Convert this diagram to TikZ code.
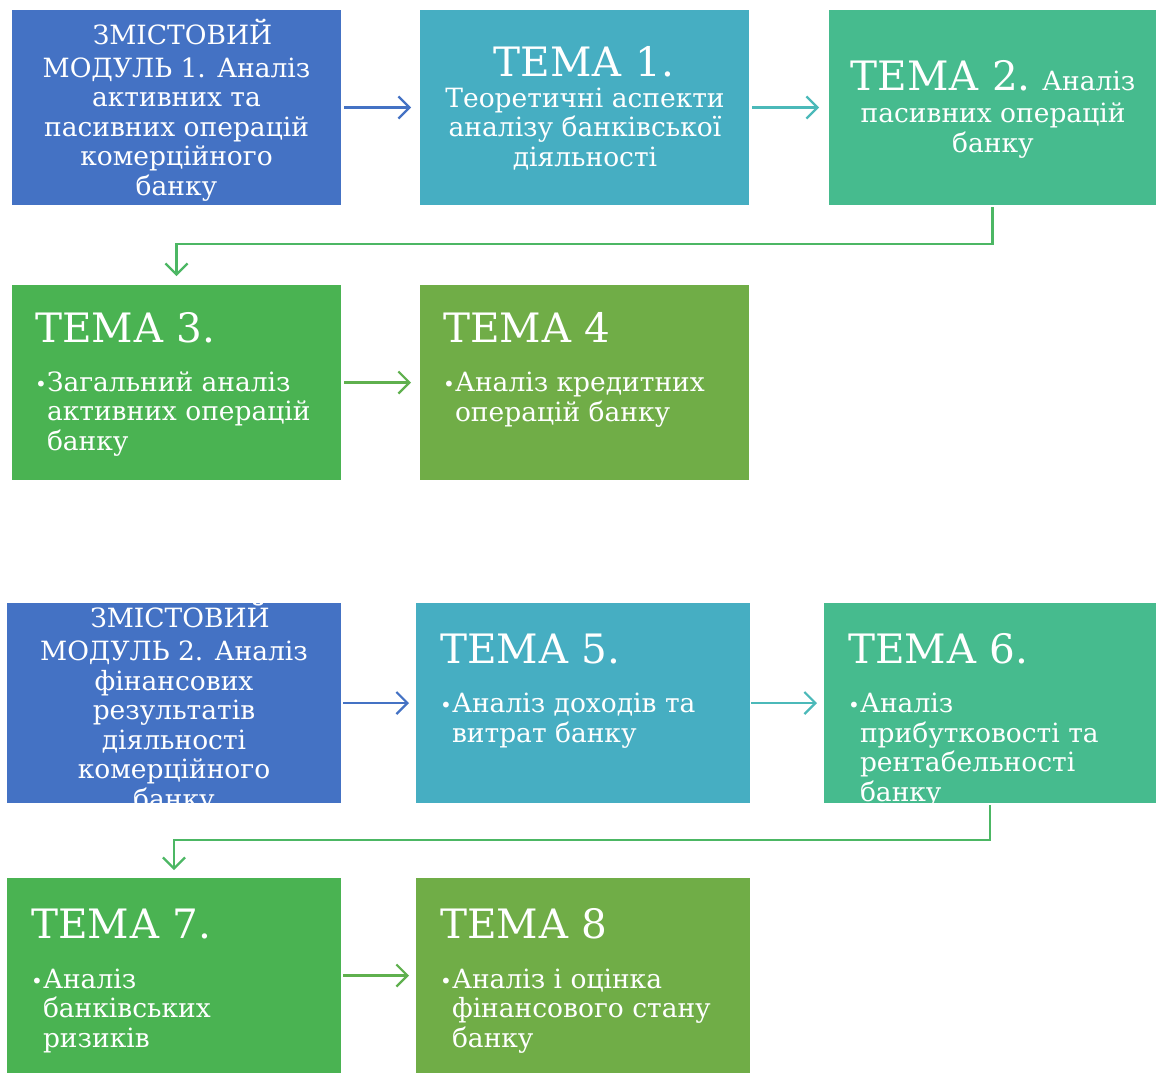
\documentclass[tikz,border=0pt]{standalone}
\usepackage{fontspec}
\setmainfont{DejaVu Serif}
\usetikzlibrary{arrows.meta}
\definecolor{cBlue}{RGB}{68,114,196}
\definecolor{cTeal}{RGB}{70,174,194}
\definecolor{cSea}{RGB}{70,187,142}
\definecolor{cGreen}{RGB}{74,179,82}
\definecolor{cOlive}{RGB}{112,173,71}
\definecolor{aTeal}{RGB}{75,185,185}
\definecolor{aGreen}{RGB}{76,183,100}
\definecolor{aOlive}{RGB}{95,176,78}
\tikzset{
  box/.style={draw=none, anchor=north west, inner sep=0pt, outer sep=0pt},
  txt/.style={text=white, inner sep=0pt, outer sep=0pt, font=\fontsize{26.5}{29.5}\selectfont},
  ttl/.style={text=white, inner sep=0pt, outer sep=0pt, font=\fontsize{40.5}{48}\selectfont, anchor=base west},
  ttlc/.style={ttl, anchor=base},
  body/.style={txt, align=left, anchor=base west},
  ctr/.style={txt, align=center, anchor=base},
  link/.style={line width=2.2pt, -{Straight Barb[length=11pt,width=22pt,line width=2.2pt]}},
}
\newcommand{\bu}{\makebox[12pt][l]{\fontsize{20}{20}\selectfont •}}
\newcommand{\bl}{\hspace*{12pt}}
\begin{document}
\begin{tikzpicture}[x=1pt,y=-1pt]
\useasboundingbox (0,0) rectangle (1156,1074);
% ---- boxes, part 1
\node[box, fill=cBlue,  minimum width=329pt, minimum height=195pt] (A) at (12,10) {};
\node[box, fill=cTeal,  minimum width=329pt, minimum height=195pt] (B) at (420,10) {};
\node[box, fill=cSea,   minimum width=327pt, minimum height=195pt] (C) at (829,10) {};
\node[box, fill=cGreen, minimum width=329pt, minimum height=195pt] (D) at (12,285) {};
\node[box, fill=cOlive, minimum width=329pt, minimum height=195pt] (E) at (420,285) {};
% ---- boxes, part 2
\node[box, fill=cBlue,  minimum width=334pt, minimum height=200pt] (F) at (7,603) {};
\node[box, fill=cTeal,  minimum width=334pt, minimum height=200pt] (G) at (416,603) {};
\node[box, fill=cSea,   minimum width=332pt, minimum height=200pt] (H) at (824,603) {};
\node[box, fill=cGreen, minimum width=334pt, minimum height=195pt] (I) at (7,878) {};
\node[box, fill=cOlive, minimum width=334pt, minimum height=195pt] (J) at (416,878) {};

% ---- texts, part 1 (multi-line nodes: base = last line)
\node[ctr] (At) at (176.5,195) {\hspace*{12pt}ЗМІСТОВИЙ\\[3.5pt] МОДУЛЬ 1. Аналіз\\ активних та\\ пасивних операцій\\ комерційного\\ банку};
\node[ttlc] (Bh) at (584,76) {ТЕМА 1.};
\node[ctr] (Bt) at (585,166) {Теоретичні аспекти\\ аналізу банківської\\ діяльності};
\node[ctr] (Ct) at (993,152) {{\fontsize{40.5}{48}\selectfont ТЕМА 2.} Аналіз\\[2.5pt] пасивних операцій\\ банку};
\node[ttl] (Dh) at (35,342) {ТЕМА 3.};
\node[body] (Dt) at (35,450) {\bu Загальний аналіз\\ \bl активних операцій\\ \bl банку};
\node[ttl] (Eh) at (443,342) {ТЕМА 4};
\node[body] (Et) at (443,421) {\bu Аналіз кредитних\\ \bl операцій банку};

% ---- texts, part 2
\begin{scope}
\clip (F.south west) rectangle (F.north east);
\node[ctr] (Ft) at (174,808) {\hspace*{12pt}ЗМІСТОВИЙ\\[3.5pt] МОДУЛЬ 2. Аналіз\\ фінансових\\ результатів\\ діяльності\\ комерційного\\ банку};
\end{scope}
\node[ttl] (Gh) at (440,663) {ТЕМА 5.};
\node[body] (Gt) at (440,742) {\bu Аналіз доходів та\\ \bl витрат банку};
\begin{scope}
\clip (H.south west) rectangle (H.north east);
\node[ttl] (Hh) at (848,663) {ТЕМА 6.};
\node[body] (Ht) at (848,801) {\bu Аналіз\\ \bl прибутковості та\\ \bl рентабельності\\ \bl банку};
\end{scope}
\node[ttl] (Ih) at (31,938) {ТЕМА 7.};
\node[body] (It) at (31,1047) {\bu Аналіз\\ \bl банківських\\ \bl ризиків};
\node[ttl] (Jh) at (440,938) {ТЕМА 8};
\node[body] (Jt) at (440,1047) {\bu Аналіз і оцінка\\ \bl фінансового стану\\ \bl банку};

% ---- connectors
\draw[link, cBlue,  shorten <=3pt, shorten >=9pt] (A.east) -- (B.west);
\draw[link, aTeal,  shorten <=3pt, shorten >=10pt] (B.east) -- (C.west);
\draw[link, aGreen, shorten <=2pt, shorten >=9pt] (C.south) -- ([yshift=-39pt]C.south) -| (D.north);
\draw[link, aOlive, shorten <=3pt, shorten >=9pt] (D.east) -- (E.west);
\draw[link, cBlue,  shorten <=2pt, shorten >=7pt] (F.east) -- (G.west);
\draw[link, aTeal,  shorten <=1pt, shorten >=7pt] (G.east) -- (H.west);
\draw[link, aGreen, shorten <=2pt, shorten >=8pt] (H.south) -- ([yshift=-37pt]H.south) -| (I.north);
\draw[link, aOlive, shorten <=2pt, shorten >=7pt] (I.east) -- (J.west);
\end{tikzpicture}
\end{document}
